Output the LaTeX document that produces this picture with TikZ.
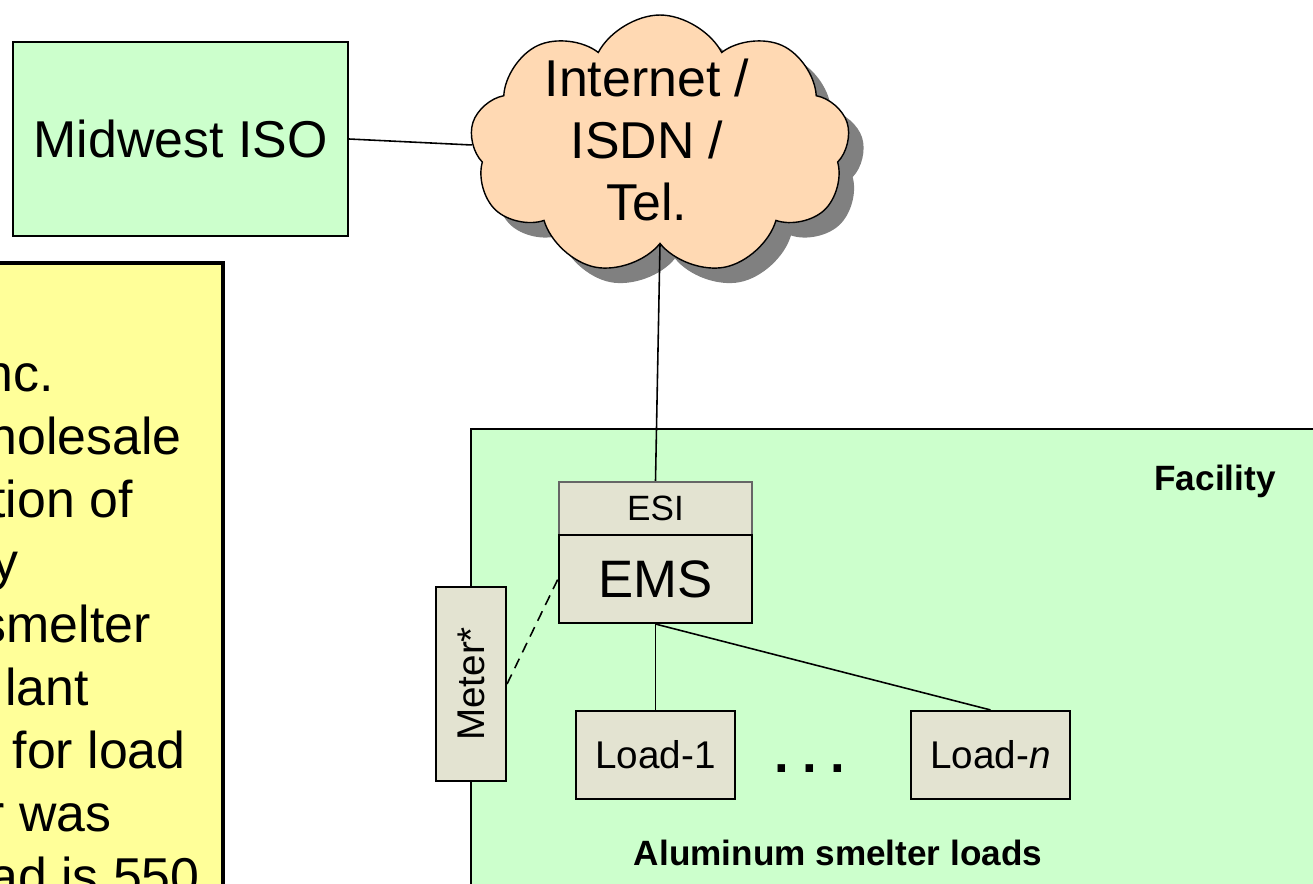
\documentclass[tikz,border=0pt]{standalone}
\usepackage{fontspec}
\setmainfont{Liberation Sans}
\usetikzlibrary{shapes.symbols,shadows}
\definecolor{isogreen}{HTML}{CCFFCC}
\definecolor{noteyellow}{HTML}{FFFF99}
\definecolor{cloudtan}{HTML}{FFD9B3}
\definecolor{unitgray}{HTML}{E3E3D1}
\definecolor{edgegray}{HTML}{666666}
\definecolor{shadowgray}{HTML}{808080}
\tikzset{
  bigtext/.style={font=\fontsize{29.5}{35.5}\selectfont},
  midtext/.style={font=\fontsize{22}{26}\selectfont},
  tagtext/.style={font=\bfseries\fontsize{20}{24}\selectfont},
  greenbox/.style={draw, fill=isogreen, line width=1pt, inner sep=0pt},
  unitbox/.style={draw, fill=unitgray, line width=1.2pt, inner sep=0pt},
  noteline/.style={bigtext, anchor=base east, inner sep=0pt},
  wire/.style={line width=0.9pt}
}
\begin{document}
\begin{tikzpicture}[x=0.02cm, y=-0.02cm]
  \clip (0,0) rectangle (1313,884);
  % note box, cut at the left and bottom
  \draw[line width=2.8pt, fill=noteyellow] (-20,263) rectangle (223,930);
  \node[noteline] (n1) at (54,392) {nc.};
  \node[noteline] (n2) at (182,455) {holesale};
  \node[noteline] (n3) at (133,518) {tion of};
  \node[noteline] (n4) at (19,580) {y};
  \node[noteline] (n5) at (151,643) {smelter};
  \node[noteline] (n6) at (89,706) {lant};
  \node[noteline] (n7) at (186,769) {for load};
  \node[noteline] (n8) at (112,832) {r was};
  \node[noteline] (n9) at (200,895) {ad is 550};
  % facility area
  \draw[fill=isogreen, line width=0.8pt] (471,429) rectangle (1340,930);
  \node[tagtext] (fac) at (1215,481) {Facility};
  \node[tagtext] (alu) at (838,853) {Aluminum smelter loads};
  % nodes
  \node[greenbox, bigtext, minimum width=6.7cm, minimum height=3.88cm] (iso) at (180.5,139) {Midwest ISO};
  \node[cloud, cloud puffs=9, cloud puff arc=125, aspect=1.45, draw, fill=cloudtan,
        line width=0.8pt, minimum width=7.6cm, minimum height=5.2cm,
        general shadow={fill=shadowgray, shadow xshift=0.3cm, shadow yshift=-0.3cm},
        label={[name=nettext, bigtext, align=center, xshift=-0.26cm, yshift=0.1cm]center:Internet /\\ISDN /\\Tel.}]
        (net) at (660,145) {};
  \node[unitbox, draw=edgegray, font=\fontsize{20}{24}\selectfont,
        minimum width=3.86cm, minimum height=1.06cm] (esi) at (655.5,508.5) {ESI};
  \node[unitbox, font=\fontsize{30}{35}\selectfont,
        minimum width=3.86cm, minimum height=1.76cm] (ems) at (655.5,579) {EMS};
  \node[unitbox, midtext, minimum width=1.4cm, minimum height=3.88cm] (meter) at (471,684) {\rotatebox{90}{Meter*}};
  \node[unitbox, midtext, minimum width=3.18cm, minimum height=1.76cm] (load1) at (655.5,755) {Load-1};
  \node[unitbox, midtext, minimum width=3.18cm, minimum height=1.76cm] (loadn) at (990.5,755) {Load-\textit{n}};
  \node[font=\bfseries\fontsize{30}{36}\selectfont, anchor=base] (dots) at (810,773) {.\kern7.5pt.\kern7.5pt.};
  % connectors
  \draw[wire] (iso.east) -- (net.west);
  \draw[wire] (net.south) -- (esi.north);
  \draw[wire] (ems.south) -- (load1.north);
  \draw[wire] (ems.south) -- (loadn.north);
  \draw[wire, dashed, dash pattern=on 6pt off 4pt] (meter.east) -- (ems.west);
\end{tikzpicture}
\end{document}
